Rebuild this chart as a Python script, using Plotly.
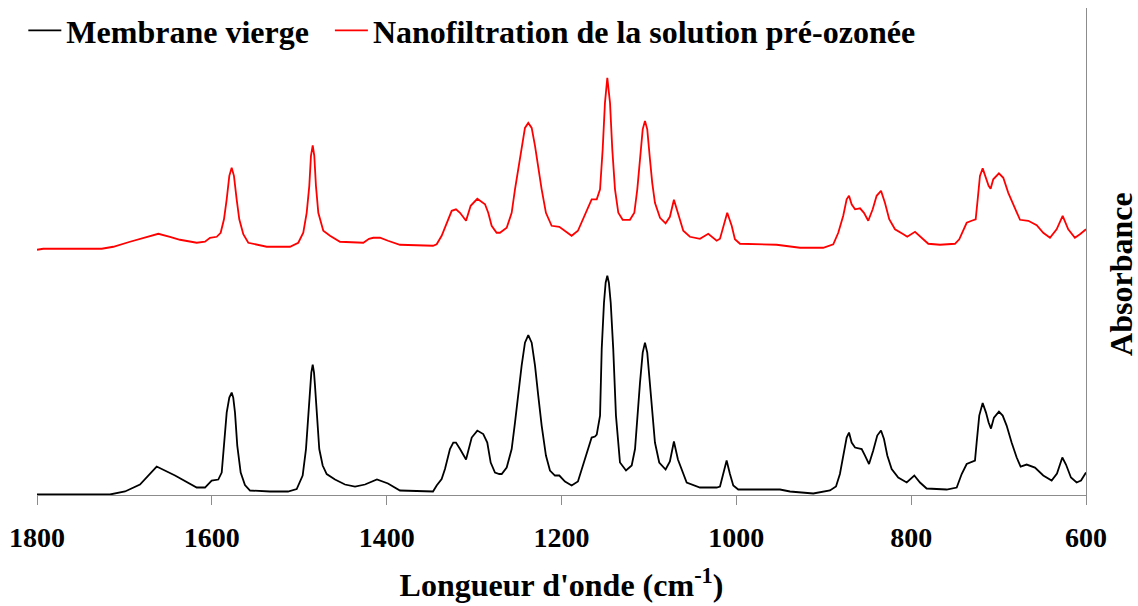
import plotly.graph_objects as go

# FTIR spectra, 1800-600 cm-1: (wavenumber, absorbance in arbitrary units, curves stacked)
membrane_vierge = [
    (1800, 0.00), (1716.5, 0.00), (1699.3, 0.03), (1682.2, 0.10), (1663.1, 0.28),
    (1642.1, 0.19), (1617.3, 0.07), (1607.8, 0.07), (1600.2, 0.14), (1592.6, 0.15),
    (1588.7, 0.22), (1586.1, 0.49), (1583.0, 0.82), (1580.0, 0.97), (1577.3, 1.02),
    (1575.5, 0.97), (1573.5, 0.82), (1570.9, 0.49), (1567.0, 0.22), (1562.1, 0.095),
    (1556.3, 0.04), (1533.5, 0.03), (1512.9, 0.03), (1502.9, 0.055), (1496.1, 0.19),
    (1492.3, 0.455), (1489.7, 0.79), (1487.7, 1.09), (1486.2, 1.22), (1484.6, 1.30),
    (1483.1, 1.22), (1482.0, 1.09), (1479.4, 0.79), (1477.1, 0.455), (1473.2, 0.29),
    (1468.6, 0.205), (1459.1, 0.15), (1447.7, 0.10), (1436.2, 0.08), (1424.8, 0.10),
    (1411.1, 0.15), (1398.5, 0.11), (1384.8, 0.04), (1347.0, 0.03), (1342.8, 0.09),
    (1337.1, 0.155), (1333.3, 0.255), (1327.6, 0.455), (1323.8, 0.52), (1320.7, 0.52),
    (1316.1, 0.455), (1309.2, 0.35), (1302.7, 0.57), (1296.3, 0.64), (1289.5, 0.605),
    (1284.9, 0.52), (1281.0, 0.32), (1276.1, 0.22), (1271.2, 0.205), (1268.4, 0.205),
    (1262.7, 0.27), (1257.0, 0.455), (1253.2, 0.72), (1249.4, 1.02), (1245.6, 1.29),
    (1241.8, 1.52), (1238.0, 1.595), (1234.1, 1.52), (1230.3, 1.29), (1226.6, 0.99),
    (1222.7, 0.69), (1217.8, 0.39), (1213.2, 0.24), (1207.5, 0.19), (1202.5, 0.19),
    (1196.0, 0.13), (1188.4, 0.09), (1181.2, 0.13), (1173.2, 0.35), (1165.5, 0.57),
    (1161.7, 0.58), (1159.7, 0.60), (1155.9, 0.79), (1154.0, 1.455), (1151.4, 1.92),
    (1149.5, 2.12), (1147.6, 2.19), (1145.8, 2.12), (1143.7, 1.92), (1140.8, 1.455),
    (1137.7, 0.79), (1133.1, 0.32), (1126.2, 0.24), (1119.7, 0.29), (1115.9, 0.455),
    (1113.3, 0.79), (1110.2, 1.12), (1107.1, 1.42), (1104.5, 1.52), (1101.9, 1.42),
    (1098.8, 1.12), (1096.2, 0.79), (1093.1, 0.52), (1088.2, 0.32), (1080.9, 0.25),
    (1076.0, 0.33), (1071.4, 0.53), (1066.8, 0.35), (1056.8, 0.12), (1041.6, 0.07),
    (1022.5, 0.07), (1018.7, 0.08), (1014.9, 0.205), (1011.1, 0.34), (1007.3, 0.205),
    (1003.5, 0.09), (997.8, 0.05), (976.7, 0.05), (950.1, 0.05), (938.6, 0.03),
    (912.0, 0.01), (892.9, 0.04), (886.0, 0.08), (881.5, 0.205), (877.7, 0.39),
    (873.8, 0.57), (871.1, 0.62), (868.1, 0.52), (864.2, 0.47), (856.6, 0.455),
    (852.8, 0.39), (848.2, 0.305), (843.4, 0.44), (838.8, 0.59), (834.5, 0.64),
    (831.1, 0.555), (827.3, 0.39), (822.3, 0.255), (814.8, 0.17), (805.1, 0.12),
    (796.4, 0.19), (789.9, 0.12), (782.3, 0.06), (759.4, 0.05), (747.9, 0.07),
    (742.2, 0.205), (736.5, 0.305), (732.7, 0.32), (727.0, 0.34), (725.1, 0.52),
    (722.1, 0.79), (718.2, 0.915), (714.4, 0.82), (711.4, 0.72), (708.7, 0.66),
    (705.3, 0.77), (699.6, 0.83), (695.3, 0.79), (690.8, 0.69), (685.1, 0.52),
    (679.3, 0.37), (674.8, 0.28), (667.9, 0.30), (658.4, 0.27), (648.9, 0.19),
    (639.3, 0.14), (633.2, 0.21), (627.1, 0.37), (622.9, 0.30), (617.2, 0.17),
    (610.7, 0.12), (605.7, 0.14), (600.0, 0.22),
]

solution_pre_ozonee = [
    (1800, 2.45), (1792.8, 2.46), (1726.0, 2.46), (1712.7, 2.48), (1693.6, 2.53),
    (1676.5, 2.57), (1661.2, 2.61), (1647.9, 2.58), (1636.4, 2.55), (1617.3, 2.52),
    (1607.8, 2.53), (1602.1, 2.57), (1594.4, 2.58), (1589.9, 2.62), (1586.1, 2.755),
    (1583.0, 2.955), (1580.0, 3.19), (1577.3, 3.27), (1574.7, 3.19), (1571.6, 2.955),
    (1568.6, 2.755), (1564.0, 2.605), (1558.3, 2.52), (1537.2, 2.48), (1514.4, 2.48),
    (1510.6, 2.48), (1501.1, 2.52), (1495.4, 2.62), (1491.5, 2.82), (1488.5, 3.09),
    (1486.6, 3.39), (1484.6, 3.495), (1482.8, 3.39), (1480.9, 3.09), (1478.2, 2.82),
    (1472.5, 2.64), (1464.8, 2.59), (1453.4, 2.53), (1426.7, 2.52), (1420.2, 2.56),
    (1415.3, 2.57), (1407.6, 2.57), (1398.5, 2.54), (1384.8, 2.50), (1347.0, 2.49),
    (1342.8, 2.505), (1337.1, 2.59), (1331.3, 2.72), (1325.6, 2.84), (1320.7, 2.855),
    (1316.1, 2.82), (1309.2, 2.74), (1303.9, 2.89), (1296.3, 2.96), (1287.5, 2.905),
    (1283.8, 2.82), (1279.9, 2.69), (1274.2, 2.62), (1270.4, 2.62), (1262.7, 2.67),
    (1257.0, 2.82), (1253.2, 3.055), (1249.4, 3.255), (1245.6, 3.49), (1241.8, 3.67),
    (1238.0, 3.72), (1234.1, 3.67), (1230.3, 3.49), (1226.6, 3.255), (1222.7, 3.055),
    (1217.8, 2.82), (1211.3, 2.69), (1202.5, 2.68), (1196.0, 2.64), (1188.4, 2.59),
    (1181.2, 2.64), (1173.2, 2.81), (1165.5, 2.955), (1159.7, 2.955), (1155.9, 3.055),
    (1152.9, 3.455), (1150.3, 3.92), (1147.6, 4.17), (1144.5, 3.92), (1141.9, 3.455),
    (1138.8, 3.055), (1135.0, 2.82), (1130.0, 2.75), (1121.7, 2.75), (1116.7, 2.82),
    (1113.3, 3.055), (1110.2, 3.355), (1107.1, 3.655), (1104.5, 3.74), (1101.9, 3.655),
    (1098.8, 3.355), (1096.2, 3.12), (1093.1, 2.92), (1087.3, 2.77), (1080.9, 2.715),
    (1076.0, 2.78), (1071.4, 2.95), (1066.8, 2.81), (1060.7, 2.64), (1053.1, 2.58),
    (1041.6, 2.56), (1032.1, 2.61), (1022.5, 2.54), (1018.7, 2.56), (1014.9, 2.69),
    (1010.4, 2.82), (1005.3, 2.69), (1001.6, 2.555), (995.8, 2.51), (953.9, 2.50),
    (927.2, 2.47), (900.6, 2.47), (889.1, 2.505), (883.4, 2.62), (877.7, 2.79),
    (873.8, 2.955), (871.1, 2.99), (868.1, 2.905), (864.2, 2.855), (858.5, 2.865),
    (854.0, 2.82), (849.1, 2.74), (844.0, 2.855), (839.5, 2.99), (834.5, 3.04),
    (830.0, 2.92), (825.1, 2.755), (818.5, 2.655), (808.9, 2.605), (804.5, 2.58),
    (795.6, 2.63), (788.0, 2.57), (780.4, 2.51), (767.0, 2.50), (755.6, 2.51),
    (749.9, 2.51), (745.0, 2.555), (740.4, 2.655), (736.5, 2.72), (730.8, 2.74),
    (726.2, 2.755), (723.9, 2.955), (721.3, 3.19), (718.2, 3.265), (714.4, 3.17),
    (711.4, 3.09), (709.1, 3.06), (706.1, 3.155), (699.6, 3.215), (694.6, 3.17),
    (688.9, 3.02), (683.2, 2.905), (675.5, 2.75), (666.0, 2.74), (656.4, 2.695),
    (648.9, 2.62), (641.2, 2.57), (633.6, 2.655), (626.7, 2.79), (620.3, 2.655),
    (612.7, 2.57), (606.9, 2.605), (600.0, 2.655),
]

x_ticks = [1800, 1600, 1400, 1200, 1000, 800, 600]

FONT = "Liberation Serif"
AXIS_GREY = "#8c8c8c"

fig = go.Figure()
for data, name, color in [
    (membrane_vierge, "<b>Membrane vierge</b>&nbsp;&nbsp;", "#000000"),
    (solution_pre_ozonee, "<b>Nanofiltration de la solution pré-ozonée</b>", "#ff0000"),
]:
    wn, absorb = zip(*data)
    fig.add_trace(go.Scatter(x=list(wn), y=list(absorb), mode="lines", name=name,
                             line=dict(color=color, width=1.8)))

fig.update_layout(
    width=1138, height=606,
    margin=dict(l=37, r=52, t=8, b=111, autoexpand=False),
    paper_bgcolor="white", plot_bgcolor="white",
    font=dict(family=FONT, color="black"),
    showlegend=True,
    legend=dict(orientation="h", xref="container", yref="container",
                x=0.0205, y=0.995, xanchor="left", yanchor="top",
                font=dict(family=FONT, size=32, color="black"),
                bgcolor="rgba(0,0,0,0)", itemwidth=33),
    xaxis=dict(range=[1800, 600], tickmode="array", tickvals=x_ticks,
               ticktext=[f"<b>{v}</b>" for v in x_ticks],
               tickfont=dict(family=FONT, size=28, color="black"),
               ticks="outside", ticklen=9, tickcolor=AXIS_GREY, tickwidth=1,
               ticklabelstandoff=8,
               showline=True, linecolor=AXIS_GREY, linewidth=1,
               showgrid=False, zeroline=False,
               title=dict(text="<b>Longueur d'onde (cm<sup>-1</sup>)</b>",
                          font=dict(family=FONT, size=32, color="black"),
                          standoff=22)),
    yaxis=dict(range=[-0.005, 4.87], side="right", showline=True, linecolor=AXIS_GREY,
               linewidth=1, showticklabels=False, ticks="", showgrid=False,
               zeroline=False),
    annotations=[dict(text="<b>Absorbance</b>", textangle=-90, xref="paper", yref="paper",
                      x=1.0, y=0.454, xanchor="center", yanchor="middle", xshift=35,
                      showarrow=False, font=dict(family=FONT, size=32, color="black"))],
)

fig.write_html("out.html")
